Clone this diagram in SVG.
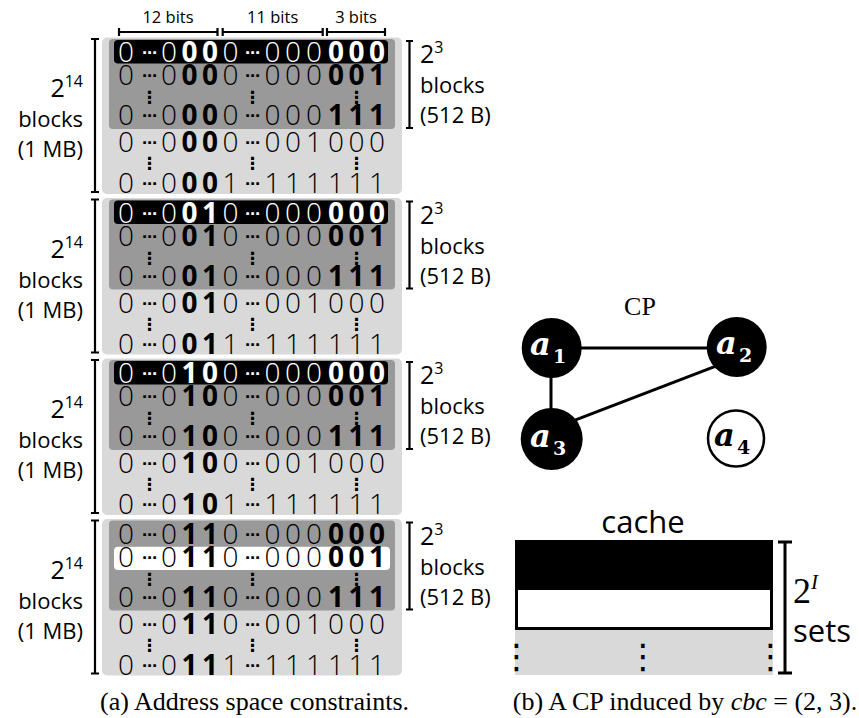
<svg xmlns="http://www.w3.org/2000/svg" width="859" height="718" viewBox="0 0 859 718">
  <style>
    .lt { fill: #d9d9d9; }
    .dk { fill: #999999; }
    .d { font-family: "Open Sans", "Noto Sans", "DejaVu Sans", sans-serif; font-size: 28px; font-weight: 300; text-anchor: middle; fill: #000; }
    .d .b { font-weight: 700; }
    .el { font-family: "DejaVu Sans", sans-serif; font-weight: 700; font-size: 15px; text-anchor: middle; fill: #000; }
    .vd { font-family: "DejaVu Sans", sans-serif; font-weight: 700; font-size: 17px; text-anchor: middle; fill: #000; }
    .vd.big { font-size: 34px; font-weight: 400; }
    text.w { fill: #fff; }
    .lab { font-family: "Open Sans", "Noto Sans", sans-serif; font-size: 22px; fill: #000; }
    .lab.lg { font-size: 31px; }
    .hdr { font-family: "Open Sans", "Noto Sans", sans-serif; font-size: 16.5px; fill: #000; text-anchor: middle; }
    .br { stroke: #000; stroke-width: 2.2; fill: none; }
    .br.thick { stroke-width: 3; }
    .edge { stroke: #000; stroke-width: 3; }
    .nd { fill: #000; }
    .nl { font-family: "DejaVu Serif", "Liberation Serif", serif; font-weight: 700; font-style: italic; font-size: 32px; }
    .ns { font-style: normal; font-size: 19px; }
    .serif { font-family: "Liberation Serif", "Times New Roman", serif; fill: #000; }
    .cap { font-family: "Liberation Serif", "Times New Roman", serif; font-size: 26px; text-anchor: middle; fill: #000; }
  </style>

  <!-- bit-field widths above the address column -->
  <g id="bit-fields">
    <text class="hdr" x="168" y="23">12 bits</text>
    <text class="hdr" x="272.7" y="23">11 bits</text>
    <text class="hdr" x="356" y="23">3 bits</text>
    <path class="br" d="M119 32H217.5M119 28V36M217.5 28V36"/>
    <path class="br" d="M222.7 32H322.7M222.7 28V36M322.7 28V36"/>
    <path class="br" d="M327 32H385M327 28V36M385 28V36"/>
  </g>

  <!-- 1 MB region, tag bits 00 -->
  <g id="region-00">
    <rect class="lt" x="102" y="37.5" width="300" height="156.5" rx="5"/>
    <rect class="dk" x="109" y="39" width="286" height="90" rx="4"/>
    <rect x="114" y="40" width="274" height="23.5" rx="4" fill="#000"/>
    <text class="d w" y="62"><tspan x="126 169">00</tspan><tspan class="b" x="189.5 210">00</tspan><tspan x="230.5 272.5 293 314">0000</tspan><tspan class="b" x="336 356.5 377">000</tspan></text>
    <text class="el w" x="149.5 252.5" y="58">⋯⋯</text>
    <text class="d" y="85"><tspan x="126 169">00</tspan><tspan class="b" x="189.5 210">00</tspan><tspan x="230.5 272.5 293 314">0000</tspan><tspan class="b" x="336 356.5 377">001</tspan></text>
    <text class="el" x="149.5 252.5" y="81">⋯⋯</text>
    <text class="vd" x="149.5 252.5 356.5" y="103">⋮⋮⋮</text>
    <text class="d" y="125"><tspan x="126 169">00</tspan><tspan class="b" x="189.5 210">00</tspan><tspan x="230.5 272.5 293 314">0000</tspan><tspan class="b" x="336 356.5 377">111</tspan></text>
    <text class="el" x="149.5 252.5" y="121">⋯⋯</text>
    <text class="d" y="152"><tspan x="126 169">00</tspan><tspan class="b" x="189.5 210">00</tspan><tspan x="230.5 272.5 293 314 336 356.5 377">0001000</tspan></text>
    <text class="el" x="149.5 252.5" y="148">⋯⋯</text>
    <text class="vd" x="149.5 252.5 356.5" y="169">⋮⋮⋮</text>
    <text class="d" y="193"><tspan x="126 169">00</tspan><tspan class="b" x="189.5 210">00</tspan><tspan x="230.5 272.5 293 314 336 356.5 377">1111111</tspan></text>
    <text class="el" x="149.5 252.5" y="189">⋯⋯</text>
    <path class="br" d="M95 39V192M91 39H99M91 192H99"/>
    <text class="lab" x="83" y="97" text-anchor="end"><tspan font-size="25px">2</tspan><tspan font-size="16px" dy="-10">14</tspan></text>
    <text class="lab" x="83" y="127" text-anchor="end">blocks</text>
    <text class="lab" x="83" y="157" text-anchor="end">(1 MB)</text>
    <path class="br" d="M409.5 41V128M406 41H413M406 128H413"/>
    <text class="lab" x="420" y="63"><tspan font-size="25px">2</tspan><tspan font-size="16px" dy="-10">3</tspan></text>
    <text class="lab" x="420" y="93">blocks</text>
    <text class="lab" x="420" y="123">(512 B)</text>
  </g>

  <!-- 1 MB region, tag bits 01 -->
  <g id="region-01" transform="translate(0 160.5)">
    <rect class="lt" x="102" y="37.5" width="300" height="156.5" rx="5"/>
    <rect class="dk" x="109" y="39" width="286" height="90" rx="4"/>
    <rect x="114" y="40" width="274" height="23.5" rx="4" fill="#000"/>
    <text class="d w" y="62"><tspan x="126 169">00</tspan><tspan class="b" x="189.5 210">01</tspan><tspan x="230.5 272.5 293 314">0000</tspan><tspan class="b" x="336 356.5 377">000</tspan></text>
    <text class="el w" x="149.5 252.5" y="58">⋯⋯</text>
    <text class="d" y="85"><tspan x="126 169">00</tspan><tspan class="b" x="189.5 210">01</tspan><tspan x="230.5 272.5 293 314">0000</tspan><tspan class="b" x="336 356.5 377">001</tspan></text>
    <text class="el" x="149.5 252.5" y="81">⋯⋯</text>
    <text class="vd" x="149.5 252.5 356.5" y="103">⋮⋮⋮</text>
    <text class="d" y="125"><tspan x="126 169">00</tspan><tspan class="b" x="189.5 210">01</tspan><tspan x="230.5 272.5 293 314">0000</tspan><tspan class="b" x="336 356.5 377">111</tspan></text>
    <text class="el" x="149.5 252.5" y="121">⋯⋯</text>
    <text class="d" y="152"><tspan x="126 169">00</tspan><tspan class="b" x="189.5 210">01</tspan><tspan x="230.5 272.5 293 314 336 356.5 377">0001000</tspan></text>
    <text class="el" x="149.5 252.5" y="148">⋯⋯</text>
    <text class="vd" x="149.5 252.5 356.5" y="169">⋮⋮⋮</text>
    <text class="d" y="193"><tspan x="126 169">00</tspan><tspan class="b" x="189.5 210">01</tspan><tspan x="230.5 272.5 293 314 336 356.5 377">1111111</tspan></text>
    <text class="el" x="149.5 252.5" y="189">⋯⋯</text>
    <path class="br" d="M95 39V192M91 39H99M91 192H99"/>
    <text class="lab" x="83" y="97" text-anchor="end"><tspan font-size="25px">2</tspan><tspan font-size="16px" dy="-10">14</tspan></text>
    <text class="lab" x="83" y="127" text-anchor="end">blocks</text>
    <text class="lab" x="83" y="157" text-anchor="end">(1 MB)</text>
    <path class="br" d="M409.5 41V128M406 41H413M406 128H413"/>
    <text class="lab" x="420" y="63"><tspan font-size="25px">2</tspan><tspan font-size="16px" dy="-10">3</tspan></text>
    <text class="lab" x="420" y="93">blocks</text>
    <text class="lab" x="420" y="123">(512 B)</text>
  </g>

  <!-- 1 MB region, tag bits 10 -->
  <g id="region-10" transform="translate(0 321)">
    <rect class="lt" x="102" y="37.5" width="300" height="156.5" rx="5"/>
    <rect class="dk" x="109" y="39" width="286" height="90" rx="4"/>
    <rect x="114" y="40" width="274" height="23.5" rx="4" fill="#000"/>
    <text class="d w" y="62"><tspan x="126 169">00</tspan><tspan class="b" x="189.5 210">10</tspan><tspan x="230.5 272.5 293 314">0000</tspan><tspan class="b" x="336 356.5 377">000</tspan></text>
    <text class="el w" x="149.5 252.5" y="58">⋯⋯</text>
    <text class="d" y="85"><tspan x="126 169">00</tspan><tspan class="b" x="189.5 210">10</tspan><tspan x="230.5 272.5 293 314">0000</tspan><tspan class="b" x="336 356.5 377">001</tspan></text>
    <text class="el" x="149.5 252.5" y="81">⋯⋯</text>
    <text class="vd" x="149.5 252.5 356.5" y="103">⋮⋮⋮</text>
    <text class="d" y="125"><tspan x="126 169">00</tspan><tspan class="b" x="189.5 210">10</tspan><tspan x="230.5 272.5 293 314">0000</tspan><tspan class="b" x="336 356.5 377">111</tspan></text>
    <text class="el" x="149.5 252.5" y="121">⋯⋯</text>
    <text class="d" y="152"><tspan x="126 169">00</tspan><tspan class="b" x="189.5 210">10</tspan><tspan x="230.5 272.5 293 314 336 356.5 377">0001000</tspan></text>
    <text class="el" x="149.5 252.5" y="148">⋯⋯</text>
    <text class="vd" x="149.5 252.5 356.5" y="169">⋮⋮⋮</text>
    <text class="d" y="193"><tspan x="126 169">00</tspan><tspan class="b" x="189.5 210">10</tspan><tspan x="230.5 272.5 293 314 336 356.5 377">1111111</tspan></text>
    <text class="el" x="149.5 252.5" y="189">⋯⋯</text>
    <path class="br" d="M95 39V192M91 39H99M91 192H99"/>
    <text class="lab" x="83" y="97" text-anchor="end"><tspan font-size="25px">2</tspan><tspan font-size="16px" dy="-10">14</tspan></text>
    <text class="lab" x="83" y="127" text-anchor="end">blocks</text>
    <text class="lab" x="83" y="157" text-anchor="end">(1 MB)</text>
    <path class="br" d="M409.5 41V128M406 41H413M406 128H413"/>
    <text class="lab" x="420" y="63"><tspan font-size="25px">2</tspan><tspan font-size="16px" dy="-10">3</tspan></text>
    <text class="lab" x="420" y="93">blocks</text>
    <text class="lab" x="420" y="123">(512 B)</text>
  </g>

  <!-- 1 MB region, tag bits 11 (second block selected) -->
  <g id="region-11" transform="translate(0 481.5)">
    <rect class="lt" x="102" y="37.5" width="300" height="156.5" rx="5"/>
    <rect class="dk" x="109" y="39" width="286" height="90" rx="4"/>
    <rect x="114" y="65.2" width="276" height="23.3" rx="4" fill="#fff"/>
    <text class="d" y="62"><tspan x="126 169">00</tspan><tspan class="b" x="189.5 210">11</tspan><tspan x="230.5 272.5 293 314">0000</tspan><tspan class="b" x="336 356.5 377">000</tspan></text>
    <text class="el" x="149.5 252.5" y="58">⋯⋯</text>
    <text class="d" y="85"><tspan x="126 169">00</tspan><tspan class="b" x="189.5 210">11</tspan><tspan x="230.5 272.5 293 314">0000</tspan><tspan class="b" x="336 356.5 377">001</tspan></text>
    <text class="el" x="149.5 252.5" y="81">⋯⋯</text>
    <text class="vd" x="149.5 252.5 356.5" y="103">⋮⋮⋮</text>
    <text class="d" y="125"><tspan x="126 169">00</tspan><tspan class="b" x="189.5 210">11</tspan><tspan x="230.5 272.5 293 314">0000</tspan><tspan class="b" x="336 356.5 377">111</tspan></text>
    <text class="el" x="149.5 252.5" y="121">⋯⋯</text>
    <text class="d" y="152"><tspan x="126 169">00</tspan><tspan class="b" x="189.5 210">11</tspan><tspan x="230.5 272.5 293 314 336 356.5 377">0001000</tspan></text>
    <text class="el" x="149.5 252.5" y="148">⋯⋯</text>
    <text class="vd" x="149.5 252.5 356.5" y="169">⋮⋮⋮</text>
    <text class="d" y="193"><tspan x="126 169">00</tspan><tspan class="b" x="189.5 210">11</tspan><tspan x="230.5 272.5 293 314 336 356.5 377">1111111</tspan></text>
    <text class="el" x="149.5 252.5" y="189">⋯⋯</text>
    <path class="br" d="M95 39V192M91 39H99M91 192H99"/>
    <text class="lab" x="83" y="97" text-anchor="end"><tspan font-size="25px">2</tspan><tspan font-size="16px" dy="-10">14</tspan></text>
    <text class="lab" x="83" y="127" text-anchor="end">blocks</text>
    <text class="lab" x="83" y="157" text-anchor="end">(1 MB)</text>
    <path class="br" d="M409.5 41V128M406 41H413M406 128H413"/>
    <text class="lab" x="420" y="63"><tspan font-size="25px">2</tspan><tspan font-size="16px" dy="-10">3</tspan></text>
    <text class="lab" x="420" y="93">blocks</text>
    <text class="lab" x="420" y="123">(512 B)</text>
  </g>

  <!-- conflict graph -->
  <text id="cp-title" class="serif" x="640" y="315" font-size="26px" text-anchor="middle">CP</text>
  <g id="edges">
    <line class="edge" x1="551.7" y1="348" x2="736.7" y2="348"/>
    <line class="edge" x1="551" y1="348" x2="551" y2="439"/>
    <line class="edge" x1="560" y1="425.8" x2="725" y2="362.6"/>
  </g>
  <g id="a1">
    <circle class="nd" cx="551.7" cy="348" r="30"/>
    <text class="nl" x="530" y="355" fill="#fff">a<tspan class="ns" x="553" y="363">1</tspan></text>
  </g>
  <g id="a2">
    <circle class="nd" cx="736.7" cy="347" r="30"/>
    <text class="nl" x="716" y="354" fill="#fff">a<tspan class="ns" x="739" y="362">2</tspan></text>
  </g>
  <g id="a3">
    <circle class="nd" cx="551.7" cy="439" r="31"/>
    <text class="nl" x="530" y="447" fill="#fff">a<tspan class="ns" x="553" y="455">3</tspan></text>
  </g>
  <g id="a4">
    <circle cx="736" cy="438.5" r="28" fill="#fff" stroke="#000" stroke-width="2.5"/>
    <text class="nl" x="714" y="446" fill="#000">a<tspan class="ns" x="737" y="454">4</tspan></text>
  </g>

  <!-- cache sets -->
  <g id="cache">
    <text class="lab lg" x="643" y="533" text-anchor="middle">cache</text>
    <rect x="515" y="540" width="258" height="48" fill="#000"/>
    <rect x="516.5" y="588.5" width="255" height="40" fill="#fff" stroke="#000" stroke-width="3"/>
    <rect class="lt" x="515" y="630" width="258" height="45"/>
    <text class="vd big" x="516.5 643 770.5" y="668">⋮⋮⋮</text>
    <path class="br thick" d="M785 542V673M778 542H792M778 673H792"/>
    <text class="serif" x="793" y="603" font-size="36px">2<tspan font-size="21px" font-style="italic" dy="-14">I</tspan></text>
    <text class="lab lg" x="793" y="642">sets</text>
  </g>

  <!-- sub-figure captions -->
  <text class="cap" x="254.5" y="710">(a) Address space constraints.</text>
  <text class="cap" x="685" y="710">(b) A CP induced by <tspan font-style="italic">cbc</tspan> = (2, 3).</text>
</svg>
